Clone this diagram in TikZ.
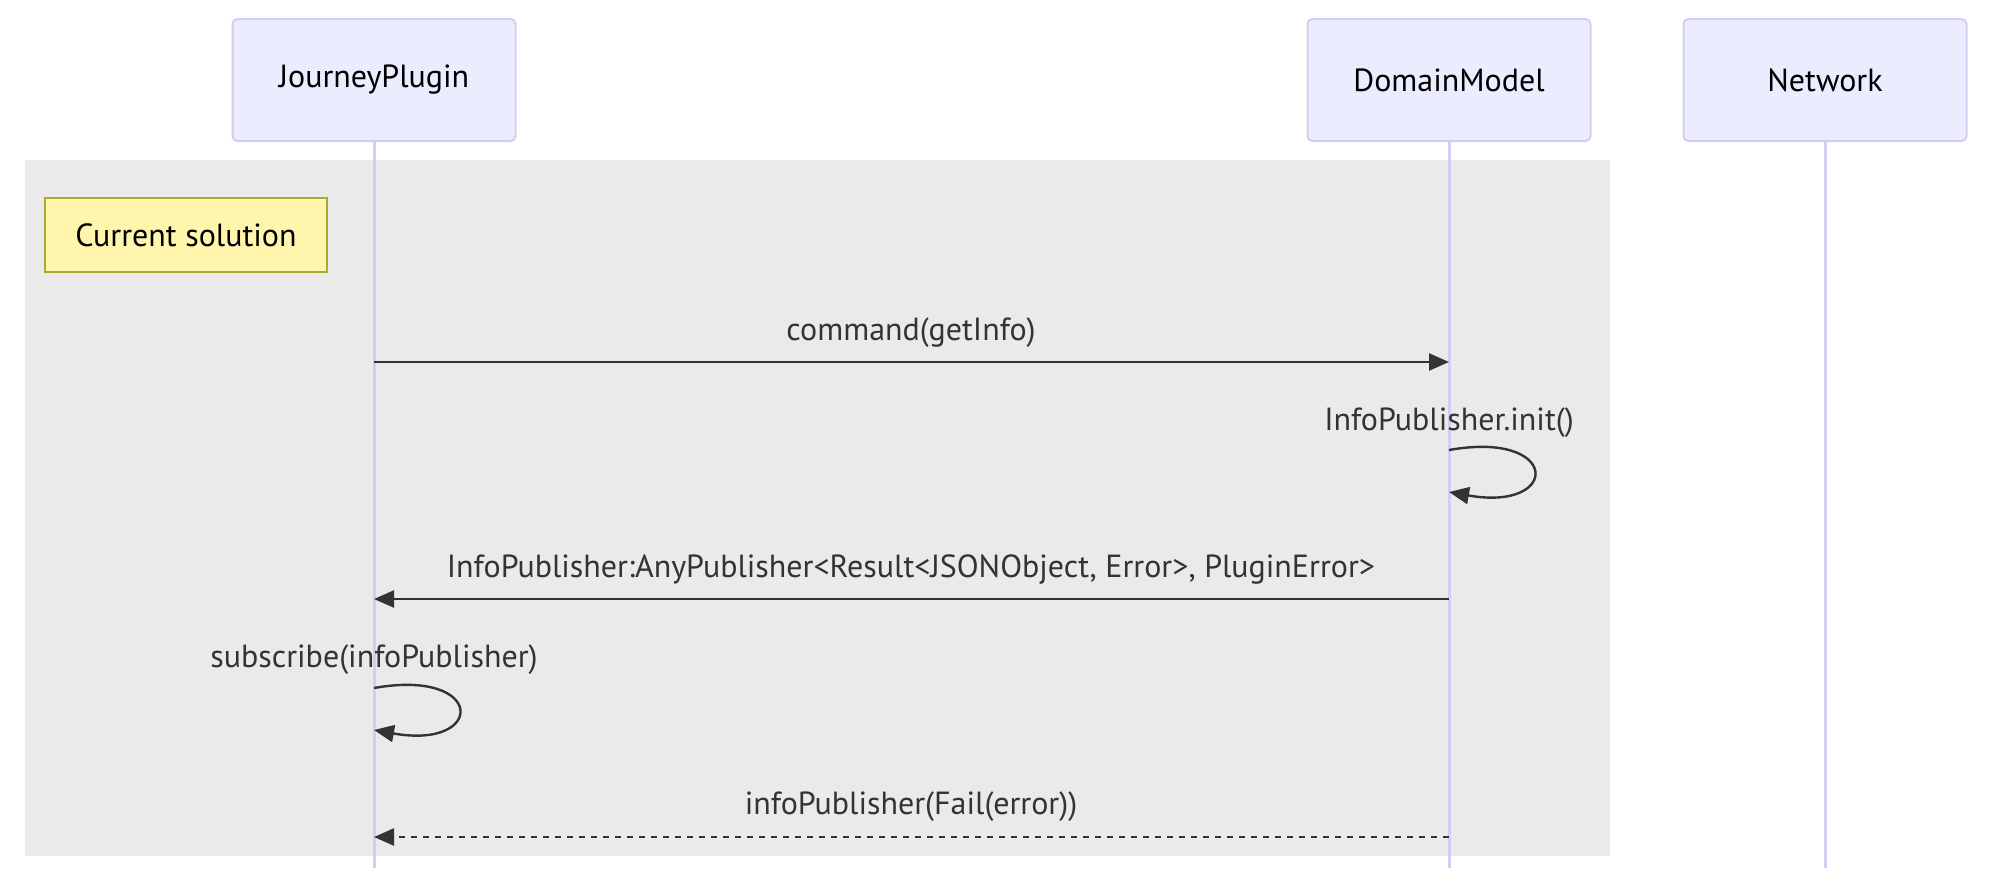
\documentclass[tikz,border=0pt]{standalone}
\usepackage{fontspec}
\setmainfont{PT Sans}
\usetikzlibrary{arrows.meta,calc}
\definecolor{actorfill}{HTML}{ECECFF}
\definecolor{actorline}{HTML}{D5CCF2}
\definecolor{lifeline}{HTML}{D5CCF2}
\definecolor{rectgray}{HTML}{EAEAEA}
\definecolor{notefill}{HTML}{FFF5AD}
\definecolor{noteline}{HTML}{AAAA33}
\definecolor{msgcol}{HTML}{333333}
\tikzset{
  actor/.style={draw=actorline, line width=2pt, fill=actorfill, rounded corners=5pt,
    minimum width=283pt, minimum height=122pt, inner sep=0pt, font=\fontsize{32}{36}\selectfont, text=black},
  lifel/.style={draw=lifeline, line width=3pt},
  notebox/.style={draw=noteline, line width=2pt, fill=notefill, minimum width=282pt,
    minimum height=74pt, inner sep=0pt, font=\fontsize{32}{36}\selectfont, text=black},
  msg/.style={draw=msgcol, line width=2.4pt, -{Triangle[length=20pt,width=17pt]}},
  dmsg/.style={msg, dash pattern=on 6pt off 6pt},
  lbl/.style={text=msgcol, font=\fontsize{32}{36}\selectfont, inner sep=0pt, anchor=base},
}
\begin{document}
\begin{tikzpicture}[x=1pt,y=-1pt]
\useasboundingbox (0,0) rectangle (1994,868);
\fill[rectgray] (25,160) rectangle (1610,856);
% actors
\node[actor] (jp) at (374,80) {JourneyPlugin};
\node[actor] (dm) at (1449,80) {DomainModel};
\node[actor] (net) at (1825,80) {Network};
% lifeline ends
\coordinate (jpend) at (374,868);
\coordinate (dmend) at (1449,868);
\coordinate (netend) at (1825,868);
\draw[lifel] (jp.south) -- (jpend);
\draw[lifel] (dm.south) -- (dmend);
\draw[lifel] (net.south) -- (netend);
% note
\node[notebox] (note) at (186,235) {Current solution};
% message points
\coordinate (jp1) at (374,362);
\coordinate (dm1) at (1449,362);
\coordinate (dm2a) at (1449,450);
\coordinate (dm2b) at (1449,492);
\coordinate (jp3) at (374,599);
\coordinate (dm3) at (1449,599);
\coordinate (jp4a) at (374,688);
\coordinate (jp4b) at (374,730);
\coordinate (jp5) at (374,837);
\coordinate (dm5) at (1449,837);
% messages
\draw[msg] (jp1) -- (dm1);
\node[lbl] (l1) at (911,340) {command(getInfo)};
\draw[msg] (dm2a) .. controls ($(dm2a)+(112,-20)$) and ($(dm2b)+(112,20)$) .. (dm2b);
\node[lbl] (l2) at (1449,430) {InfoPublisher.init()};
\draw[msg] (dm3) -- (jp3);
\node[lbl] (l3) at (911,577) {InfoPublisher:AnyPublisher<Result<JSONObject, Error>, PluginError>};
\draw[msg] (jp4a) .. controls ($(jp4a)+(112,-20)$) and ($(jp4b)+(112,20)$) .. (jp4b);
\node[lbl] (l4) at (374,667) {subscribe(infoPublisher)};
\draw[dmsg] (dm5) -- (jp5);
\node[lbl] (l5) at (911,814) {infoPublisher(Fail(error))};
\end{tikzpicture}
\end{document}
